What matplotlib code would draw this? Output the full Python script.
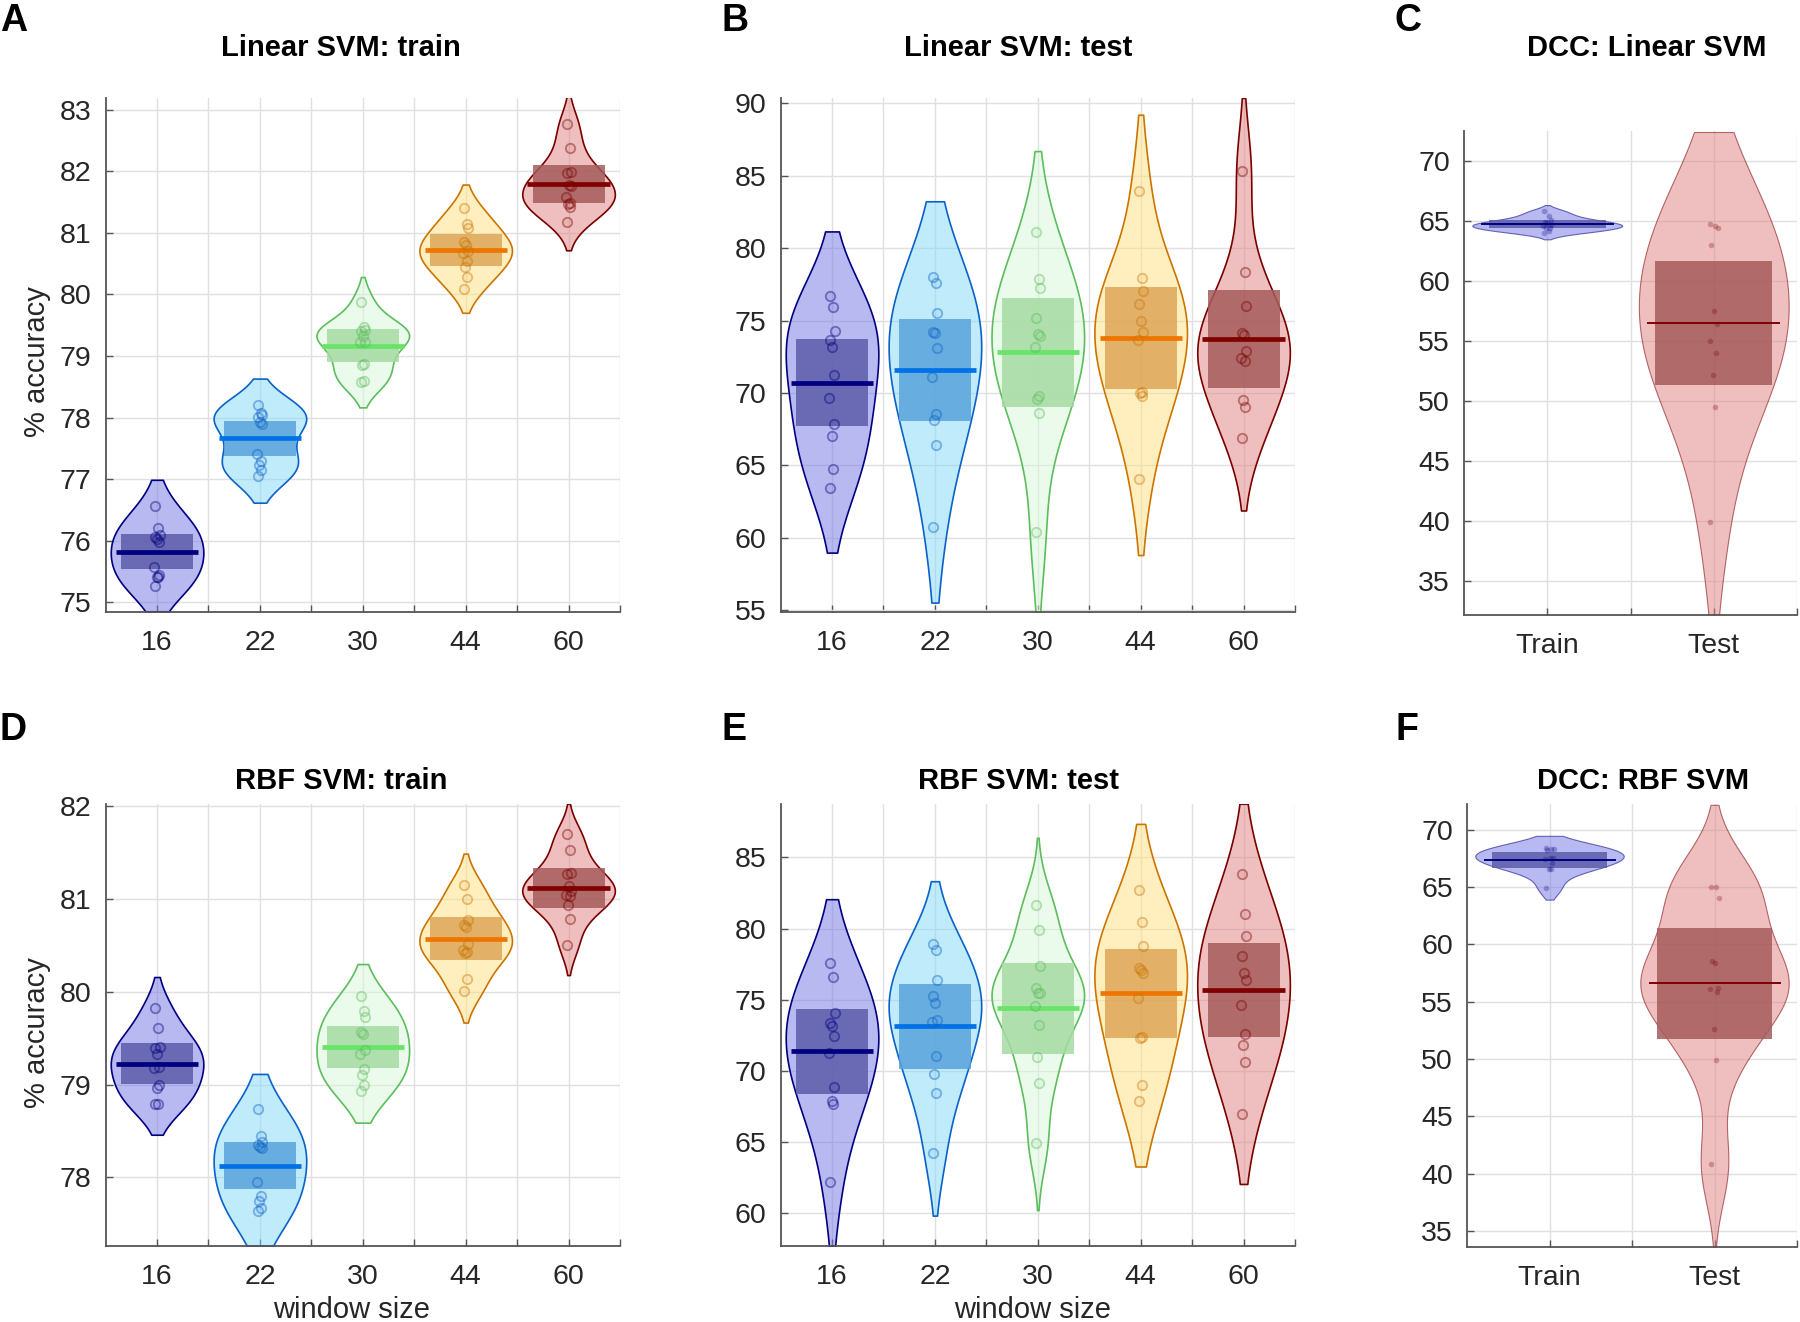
# violin + mean/95% CI plots of SVM accuracy for different window sizes

import numpy as np
import matplotlib.pyplot as plt
from matplotlib.patches import Rectangle
from matplotlib.colors import to_rgba

plt.rcParams['font.family'] = ['Liberation Sans', 'DejaVu Sans']

windows = ['16', '22', '30', '44', '60']
dcc_groups = ['Train', 'Test']

# accuracies per fold, one list per window size
lin_train = [
    [76.57, 76.21, 76.09, 76.06, 76.02, 75.97, 75.57, 75.44, 75.41, 75.41, 75.27],
    [78.20, 78.07, 78.04, 78.01, 77.93, 77.89, 77.41, 77.29, 77.23, 77.14, 77.05],
    [79.88, 79.47, 79.43, 79.41, 79.33, 79.23, 79.23, 78.87, 78.86, 78.59, 78.57],
    [81.40, 81.15, 81.08, 80.85, 80.80, 80.71, 80.68, 80.55, 80.44, 80.28, 80.09],
    [82.77, 82.38, 81.99, 81.97, 81.78, 81.77, 81.58, 81.49, 81.47, 81.42, 81.18],
]
lin_test = [
    [76.67, 75.97, 74.28, 73.68, 73.15, 71.25, 69.63, 67.89, 67.04, 64.75, 63.47],
    [78.01, 77.57, 75.56, 74.19, 74.17, 73.13, 71.09, 68.54, 68.17, 66.44, 60.76],
    [81.11, 77.85, 77.27, 75.16, 74.10, 73.91, 73.17, 69.81, 69.56, 68.63, 60.42],
    [83.96, 77.92, 77.04, 76.16, 74.95, 74.19, 73.68, 70.09, 70.00, 69.81, 64.07],
    [85.35, 78.36, 76.04, 74.14, 74.03, 72.92, 72.45, 72.22, 69.51, 69.03, 66.92],
]
rbf_train = [
    [79.83, 79.61, 79.41, 79.39, 79.33, 79.19, 79.18, 79.00, 78.96, 78.79, 78.79],
    [78.74, 78.45, 78.38, 78.35, 78.33, 78.32, 77.95, 77.80, 77.74, 77.67, 77.64],
    [79.96, 79.79, 79.73, 79.57, 79.55, 79.37, 79.33, 79.17, 79.10, 79.00, 78.93],
    [81.15, 81.00, 80.78, 80.72, 80.70, 80.52, 80.45, 80.43, 80.42, 80.14, 80.01],
    [81.70, 81.53, 81.28, 81.27, 81.14, 81.09, 81.04, 81.03, 80.94, 80.79, 80.51],
]
rbf_test = [
    [77.61, 76.61, 74.05, 73.35, 73.16, 72.42, 71.25, 68.85, 67.88, 67.71, 62.17],
    [78.90, 78.48, 76.38, 75.28, 74.75, 73.58, 73.44, 71.07, 69.79, 68.46, 64.26],
    [81.64, 79.87, 77.36, 75.80, 75.49, 75.45, 74.56, 73.23, 70.97, 69.16, 64.96],
    [82.72, 80.46, 78.78, 77.26, 77.08, 76.89, 75.10, 72.37, 72.28, 69.02, 67.92],
    [83.84, 80.99, 79.45, 78.10, 76.89, 76.38, 74.63, 72.60, 71.84, 70.62, 66.99],
]
dcc_lin = [
    [65.8, 65.4, 65.1, 64.9, 64.8, 64.7, 64.6, 64.4, 64.4, 64.2, 64.0],
    [64.73, 64.59, 64.42, 63.02, 57.53, 56.43, 55.03, 53.96, 52.17, 49.48, 39.92],
]
dcc_rbf = [
    [68.41, 68.32, 68.26, 68.20, 67.50, 67.50, 67.39, 67.10, 66.58, 66.53, 64.93],
    [64.99, 64.99, 64.06, 58.54, 58.33, 56.19, 56.10, 55.81, 52.63, 49.94, 40.82],
]

# colours per window size
face_c = ['#7575e5', '#81d9f9', '#d9f9d9', '#ffe181', '#e18181']
edge_c = ['#000080', '#0a62c8', '#5cbd5c', '#cc7400', '#7a0000']
box_c = ['#5c5caa', '#58a3db', '#a5dba3', '#dda558', '#a55b5b']
line_c = ['#000080', '#0072e6', '#68e468', '#ee7600', '#800000']

T95 = {8: 2.306, 9: 2.262, 10: 2.228}
JIT = np.array([-0.02, 0.01, 0.025, -0.015, 0.0, 0.02, -0.025, 0.015, -0.005, 0.01, -0.02])

W, H = 1800, 1322
fig = plt.figure(figsize=(W / 100, H / 100), dpi=100)


def fx(px):
    return px / W


def fy(py):
    return 1 - py / H


def draw_group(ax, pos, vals, k, thin=False):
    v = np.asarray(vals, float)
    n = len(v)
    sd = v.std(ddof=1)
    bw = np.median(np.abs(v - np.median(v))) / 0.6745 * (4 / (3 * n)) ** 0.2
    ys = np.linspace(v.min() - sd, v.max() + sd, 100)
    dens = np.exp(-0.5 * ((ys[:, None] - v[None, :]) / bw) ** 2).sum(axis=1)
    half = 0.45 * dens / dens.max()
    if thin:
        ax.fill_betweenx(ys, pos - half, pos + half, facecolor=to_rgba(face_c[k], 0.5),
                         edgecolor=to_rgba(edge_c[k], 0.55), lw=0.8, zorder=2)
    else:
        ax.fill_betweenx(ys, pos - half, pos + half, facecolor=to_rgba(face_c[k], 0.5),
                         edgecolor=edge_c[k], lw=1.2, zorder=2)
    m = v.mean()
    ci = T95[n - 1] * sd / np.sqrt(n)
    ax.add_patch(Rectangle((pos - 0.35, m - ci), 0.7, 2 * ci, facecolor=box_c[k],
                           alpha=0.85, lw=0, zorder=3))
    ax.plot([pos - 0.4, pos + 0.4], [m, m], color=line_c[k], lw=1.4 if thin else 3.4,
            solid_capstyle='butt', zorder=4)
    if thin:
        ax.plot(pos + JIT[:n], v, 'o', ms=4.0, mfc=to_rgba(edge_c[k], 0.28), mec='none', zorder=5)
    else:
        ax.plot(pos + JIT[:n], v, 'o', ms=6.8, mfc=to_rgba(edge_c[k], 0.06),
                mec=to_rgba(edge_c[k], 0.42), mew=1.3, zorder=5)


def setup(ax, ylim, yticks, xlabels):
    n = len(xlabels)
    ax.set_xlim(0.5, n + 0.5)
    ax.set_ylim(*ylim)
    ax.set_xticks(np.arange(1, n + 1))
    ax.set_xticklabels(xlabels)
    ax.set_xticks(np.arange(1.5, n + 1), minor=True)
    ax.set_yticks(yticks)
    ax.grid(True, which='both', color='#e0e0e0', lw=1)
    ax.set_axisbelow(True)
    for s in ['top', 'right']:
        ax.spines[s].set_visible(False)
    for s in ['left', 'bottom']:
        ax.spines[s].set_color('#555555')
        ax.spines[s].set_linewidth(1.3)
    ax.tick_params(which='both', direction='in', length=5, color='#555555', width=1)
    ax.tick_params(labelsize=20.5, labelcolor='#262626')
    ax.tick_params(axis='x', pad=13)
    ax.tick_params(axis='y', pad=10)


panels = [
    # rect, data, ylim, yticks, labels, title, title pos, letter, letter pos
    ([105.6, 97.6, 620, 612], lin_train, (74.84, 83.2), np.arange(75, 84, 1), windows,
     'Linear SVM: train', (341, 55.5), 'A', (0, 31)),
    ([780.6, 97.6, 1295, 612], lin_test, (54.88, 90.4), np.arange(55, 91, 5), windows,
     'Linear SVM: test', (1018, 55.5), 'B', (721, 31)),
    ([1464, 131, 1797, 615], dcc_lin, (32.17, 72.5), np.arange(35, 71, 5), dcc_groups,
     'DCC: Linear SVM', (1647, 55.5), 'C', (1395, 31)),
    ([105.6, 803.6, 620, 1246], rbf_train, (77.26, 82.03), np.arange(78, 83, 1), windows,
     'RBF SVM: train', (341, 789), 'D', (0, 740)),
    ([780.6, 803.6, 1295, 1246], rbf_test, (57.7, 88.78), np.arange(60, 86, 5), windows,
     'RBF SVM: test', (1018, 789), 'E', (721, 740)),
    ([1467, 803.6, 1797, 1247], dcc_rbf, (33.61, 72.26), np.arange(35, 71, 5), dcc_groups,
     'DCC: RBF SVM', (1643, 789), 'F', (1395, 740)),
]

for rect, data, ylim, yticks, labels, title, tpos, letter, lpos in panels:
    x0, y0, x1, y1 = rect
    ax = fig.add_axes([fx(x0), fy(y1), (x1 - x0) / W, (y1 - y0) / H])
    setup(ax, ylim, yticks, labels)
    if len(data) == 2:
        draw_group(ax, 1, data[0], 0, thin=True)
        draw_group(ax, 2, data[1], 4, thin=True)
    else:
        for i, vals in enumerate(data):
            draw_group(ax, i + 1, vals, i)
    fig.text(fx(tpos[0]), fy(tpos[1]), title, ha='center', va='baseline',
             fontsize=21, fontweight='bold')
    fig.text(fx(lpos[0]), fy(lpos[1]), letter, ha='left', va='baseline',
             fontsize=27, fontweight='bold')

fig.text(fx(36.7), fy(361.6), '% accuracy', rotation=90, ha='center', va='center',
         fontsize=21, color='#262626')
fig.text(fx(36.7), fy(1033), '% accuracy', rotation=90, ha='center', va='center',
         fontsize=21, color='#262626')
fig.text(fx(352), fy(1318), 'window size', ha='center', va='baseline',
         fontsize=21, color='#262626')
fig.text(fx(1033), fy(1318), 'window size', ha='center', va='baseline',
         fontsize=21, color='#262626')

plt.savefig('out.png', dpi=100)
